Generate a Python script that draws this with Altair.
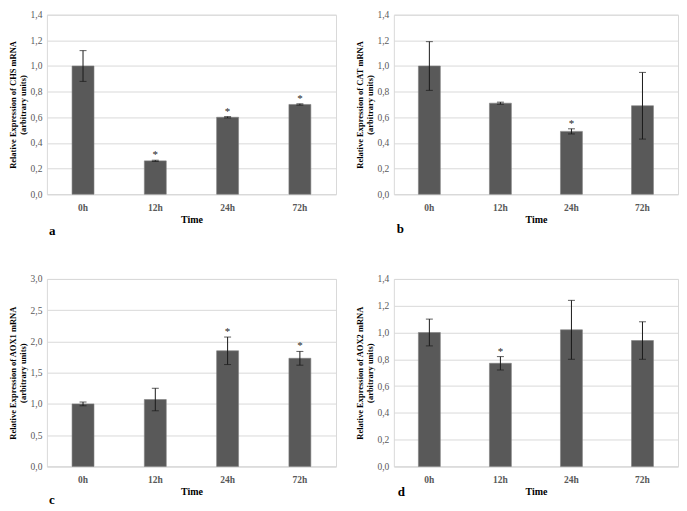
import altair as alt
import pandas as pd

times = ["0h", "12h", "24h", "72h"]

# Panel a: CHS
chs_mean = [1.00, 0.26, 0.60, 0.70]
chs_err = [0.12, 0.005, 0.005, 0.005]
chs_star = [False, True, True, True]

# Panel b: CAT
cat_mean = [1.00, 0.71, 0.49, 0.69]
cat_err = [0.19, 0.008, 0.02, 0.26]
cat_star = [False, False, True, False]

# Panel c: AOX1
aox1_mean = [1.00, 1.07, 1.85, 1.73]
aox1_err = [0.03, 0.18, 0.22, 0.11]
aox1_star = [False, False, True, True]

# Panel d: AOX2
aox2_mean = [1.00, 0.77, 1.02, 0.94]
aox2_err = [0.10, 0.05, 0.22, 0.14]
aox2_star = [False, True, False, False]

FONT = "Liberation Serif"
BAR = "#595959"


def panel(mean, err, star, ymax, ticks, gene, letter, letter_dx, letter_dy, width, height):
    df = pd.DataFrame({
        "time": times,
        "mean": mean,
        "lo": [m - e for m, e in zip(mean, err)],
        "hi": [m + e for m, e in zip(mean, err)],
        "star": ["*" if s else "" for s in star],
    })
    xax = alt.Axis(title="Time", labelAngle=0)
    x = alt.X("time:N", sort=times, axis=xax)
    yscale = alt.Scale(domain=[0, ymax], nice=False)
    yax = alt.Axis(values=ticks,
                   labelExpr="replace(format(datum.value, '.1f'), '.', ',')",
                   title=[f"Relative Expression of {gene} mRNA", "(arbitrary units)"])

    def Y(f):
        return alt.Y(f"{f}:Q", scale=yscale, axis=yax)

    base = alt.Chart(df)
    bars = base.mark_bar(size=22, color=BAR, stroke="#7f7f7f", strokeWidth=0.6).encode(
        x=x, y=Y("mean"))
    rule = base.mark_rule(color="#1a1a1a", strokeWidth=1).encode(
        x=x, y=Y("lo"), y2="hi:Q")
    cap_hi = base.mark_tick(color="#1a1a1a", size=7, thickness=1).encode(x=x, y=Y("hi"))
    cap_lo = base.mark_tick(color="#1a1a1a", size=7, thickness=1).encode(x=x, y=Y("lo"))
    stars = base.mark_text(font=FONT, fontSize=11, color="#262626",
                           baseline="alphabetic", dy=-2).encode(
        x=x, y=Y("hi"), text="star:N")
    lab = alt.Chart(alt.Data(values=[{"l": letter}])).mark_text(
        font=FONT, fontSize=13, fontWeight="bold", color="black", align="left",
        baseline="middle").encode(
        x=alt.value(letter_dx), y=alt.value(height + letter_dy), text="l:N")
    return alt.layer(bars, rule, cap_hi, cap_lo, stars, lab).properties(
        width=width, height=height)


t14 = [0, 0.2, 0.4, 0.6, 0.8, 1.0, 1.2, 1.4]
t30 = [0, 0.5, 1.0, 1.5, 2.0, 2.5, 3.0]

a = panel(chs_mean, chs_err, chs_star, 1.4, t14, "CHS", "a", 2, 37, 290, 180)
b = panel(cat_mean, cat_err, cat_star, 1.4, t14, "CAT", "b", 3, 35, 285, 180)
c = panel(aox1_mean, aox1_err, aox1_star, 3.0, t30, "AOX1", "c", 2, 34, 290, 188)
d = panel(aox2_mean, aox2_err, aox2_star, 1.4, t14, "AOX2", "d", 4, 26, 285, 188)

chart = alt.vconcat(
    alt.hconcat(a, b, spacing=18),
    alt.hconcat(c, d, spacing=18),
    spacing=34,
).properties(padding=0, background="white").configure_view(
    stroke="#d9d9d9", strokeWidth=1
).configure_axis(
    labelFont=FONT, titleFont=FONT, grid=False,
).configure_axisY(
    grid=True, gridColor="#d9d9d9", gridWidth=1, domain=False, ticks=False,
    labelFontSize=9.5, labelColor="#595959", labelPadding=5,
    titleFontSize=8.5, titleFontWeight="bold", titleColor="black",
    titlePadding=3, titleLineHeight=9.5,
).configure_axisX(
    domain=True, domainColor="#d9d9d9", ticks=False,
    labelFontSize=9.5, labelFontWeight="bold", labelColor="#595959", labelPadding=8,
    titleFontSize=10, titleFontWeight="bold", titleColor="black", titlePadding=3,
)

chart.save("out.html", embed_options={"renderer": "svg", "actions": False})
